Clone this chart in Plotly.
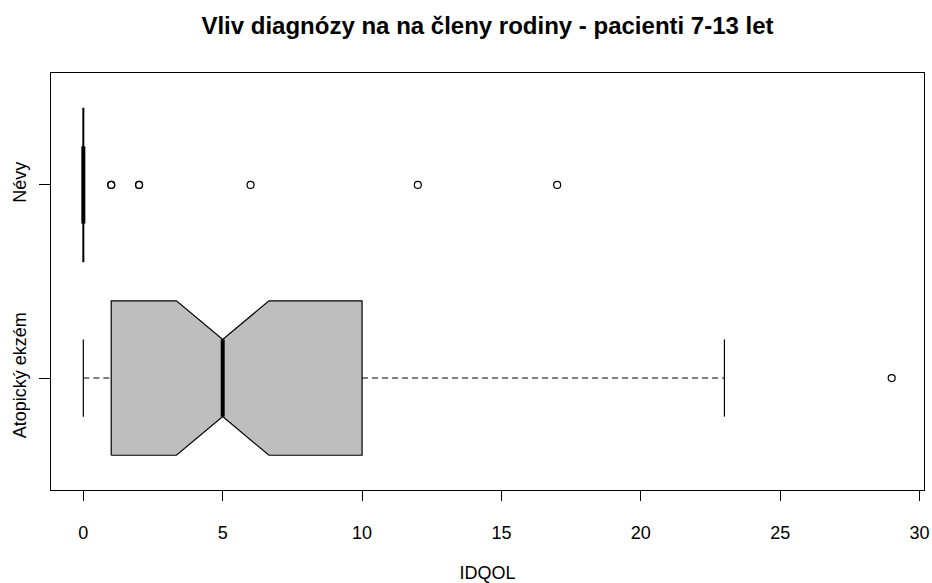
import plotly.graph_objects as go

# Summary statistics per group (horizontal notched boxplot, IDQOL score)
categories = ["Atopický ekzém", "Névy"]
whisker_lo = [0, 0]
q1 = [1, 0]
median = [5, 0]
q3 = [10, 0]
whisker_hi = [23, 0]
notch_lo = [3.34, 0]
notch_hi = [6.66, 0]
outliers = [[29], [1, 1, 2, 2, 6, 12, 17]]

x_ticks = [0, 5, 10, 15, 20, 25, 30]

title_text = "Vliv diagnózy na na členy rodiny - pacienti 7-13 let"
x_label = "IDQOL"

FONT = "Liberation Sans, Arial, sans-serif"
BOX_FILL = "#BEBEBE"
HALF = 0.4          # half box width in group units
NOTCH = HALF / 2    # half width at the notch waist / staple half length

fig = go.Figure()

for i, name in enumerate(categories):
    g = i + 1
    degenerate = q1[i] == q3[i]
    edge_w = 2 if degenerate else 1.2
    # dashed whiskers
    for a, b in ((whisker_lo[i], q1[i]), (q3[i], whisker_hi[i])):
        fig.add_trace(go.Scatter(
            x=[a, b], y=[g, g], mode="lines",
            line=dict(color="black", width=1, dash="6px,4px"),
            hoverinfo="skip", showlegend=False))
    # notched box outline
    bx = [q1[i], notch_lo[i], median[i], notch_hi[i], q3[i],
          q3[i], notch_hi[i], median[i], notch_lo[i], q1[i], q1[i]]
    by = [g - HALF, g - HALF, g - NOTCH, g - HALF, g - HALF,
          g + HALF, g + HALF, g + NOTCH, g + HALF, g + HALF, g - HALF]
    fig.add_trace(go.Scatter(
        x=bx, y=by, mode="lines", fill="toself", fillcolor=BOX_FILL,
        line=dict(color="black", width=edge_w),
        hoverinfo="skip", showlegend=False))
    # median
    fig.add_trace(go.Scatter(
        x=[median[i], median[i]], y=[g - NOTCH, g + NOTCH], mode="lines",
        line=dict(color="black", width=4),
        hoverinfo="skip", showlegend=False))
    # staples
    for w in (whisker_lo[i], whisker_hi[i]):
        fig.add_trace(go.Scatter(
            x=[w, w], y=[g - NOTCH, g + NOTCH], mode="lines",
            line=dict(color="black", width=1.2),
            hoverinfo="skip", showlegend=False))
    # outliers
    fig.add_trace(go.Scatter(
        x=outliers[i], y=[g] * len(outliers[i]), mode="markers",
        marker=dict(symbol="circle-open", size=7, color="black",
                    line=dict(width=1.2, color="black")),
        hoverinfo="skip", showlegend=False))

fig.update_layout(
    width=932, height=583,
    margin=dict(l=51, r=8, t=73, b=93),
    paper_bgcolor="white", plot_bgcolor="white",
    font=dict(family=FONT, size=18, color="black"),
    title=dict(text="<b>" + title_text + "</b>",
               font=dict(family=FONT, size=24, color="black"),
               x=0.5, xref="paper", xanchor="center",
               y=1 - 26 / 583, yref="container", yanchor="middle"),
    xaxis=dict(range=[-1.16, 30.16], tickvals=x_ticks,
               ticktext=[str(v) for v in x_ticks],
               ticks="outside", ticklen=10, tickwidth=1, tickcolor="black",
               showline=True, linecolor="black", linewidth=1, mirror=True,
               showgrid=False, zeroline=False, ticklabelstandoff=16,
               automargin=False,
               title=dict(text=x_label, standoff=33,
                          font=dict(family=FONT, size=18))),
    yaxis=dict(range=[0.42, 2.58], tickvals=[1, 2], ticktext=categories,
               tickangle=-90,
               ticks="outside", ticklen=11, tickwidth=1, tickcolor="black",
               showline=True, linecolor="black", linewidth=1, mirror=True,
               showgrid=False, zeroline=False, ticklabelstandoff=6,
               automargin=False),
)

fig.write_html("out.html")
